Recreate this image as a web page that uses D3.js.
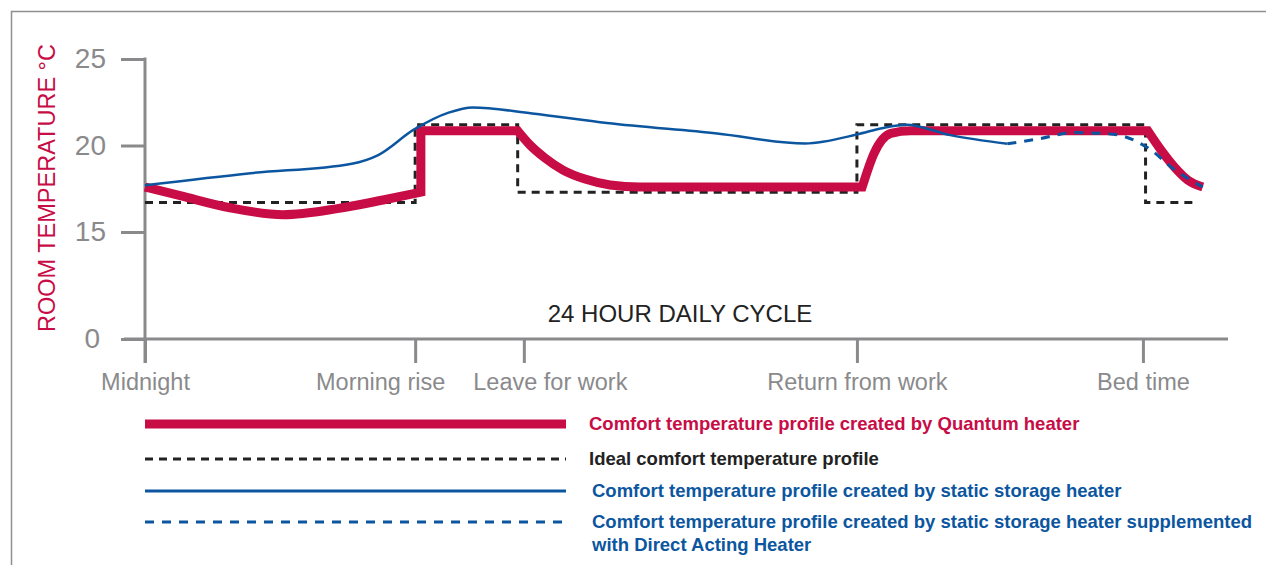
<!DOCTYPE html>
<html>
<head>
<meta charset="utf-8">
<script src="https://cdn.jsdelivr.net/npm/d3@7"></script>
<style>
  body { margin: 0; background: #fff; }
  svg { display: block; font-family: Helvetica, Arial, "Liberation Sans", sans-serif; }
</style>
</head>
<body>
<script>
// tick values + labels
const eventHours = [0, 6.14, 8.61, 16.18, 22.68];
const eventLabels = ["Midnight", "Morning rise", "Leave for work", "Return from work", "Bed time"];
const tempTicks = [0, 15, 20, 25];

// ideal comfort profile (step)
const idealProfile = [
    [0, 16.7], [6.14, 16.7], [6.14, 21.2], [8.47, 21.2], [8.47, 17.3],
    [16.18, 17.3], [16.18, 21.2], [22.74, 21.2], [22.74, 16.7], [23.93, 16.7]
];

// quantum heater, split where the line has a hard corner
const quantumProfile = [
    [[0, 17.6], [0.8, 17.1], [1.93, 16.4], [3.14, 16.0], [4.37, 16.35], [5.41, 16.85], [6.27, 17.3]],
    [[6.27, 17.3], [6.27, 20.85]],
    [[6.27, 20.85], [8.47, 20.85]],
    [[8.47, 20.85], [8.75, 20.03], [9.09, 19.28], [9.5, 18.58], [10.0, 18.06], [10.57, 17.72], [11.25, 17.6], [16.3, 17.6]],
    [[16.3, 17.6], [16.57, 19.55], [16.95, 20.7], [17.4, 20.85], [22.79, 20.85]],
    [[22.79, 20.85], [23.09, 19.74], [23.39, 18.77], [23.7, 18.0], [24.04, 17.6]]
];

// static storage heater
const storageProfile = [
    [0, 17.7], [2.4, 18.4], [4.7, 18.95], [5.3, 19.45], [6.1, 20.9], [6.9, 21.9], [7.45, 22.2],
    [8.8, 21.85], [10.5, 21.3], [13.0, 20.7], [15.0, 20.12], [16.2, 20.65], [16.75, 21.0],
    [17.3, 21.2], [18.3, 20.6], [19.6, 20.1]
];

// storage heater + direct acting heater
const supplementedProfile = [
    [19.6, 20.1], [20.35, 20.4], [21.1, 20.75], [22.0, 20.65], [22.8, 19.85], [23.4, 18.6], [24.04, 17.6]
];

const legendLabels = [
    ["Comfort temperature profile created by Quantum heater"],
    ["Ideal comfort temperature profile"],
    ["Comfort temperature profile created by static storage heater"],
    ["Comfort temperature profile created by static storage heater supplemented", "with Direct Acting Heater"]
];

const width = 1266, height = 565;
const red = "#c70c46", blue = "#0c56a0", ink = "#222", grey = "#8a8a8c";

const svg = d3.select("body").append("svg")
    .attr("width", width).attr("height", height);

// frame
svg.append("path")
    .attr("d", `M11.5,${height} V11.5 H${width}`)
    .attr("fill", "none").attr("stroke", "#8f8f8f").attr("stroke-width", 1.5);

const x = d3.scaleLinear().domain([0, 24]).range([145, 1201]);
// broken axis: 0 sits below 15
const y = d3.scaleLinear().domain([0, 15, 25]).range([339, 232, 59]);

// y axis
const yAxis = svg.append("g")
    .attr("transform", `translate(${x(0)},0)`)
    .call(d3.axisLeft(y).tickValues(tempTicks).tickSize(24).tickPadding(15).tickSizeOuter(0));
yAxis.select(".domain").remove();
yAxis.selectAll("line").attr("stroke", grey).attr("stroke-width", 3);
yAxis.selectAll("text")
    .attr("fill", grey).attr("font-size", 28).attr("font-family", null)
    .attr("dx", d => d === 0 ? -6 : 0);
yAxis.append("line")
    .attr("y1", y(25) - 1.5).attr("y2", y(0) + 24)
    .attr("stroke", grey).attr("stroke-width", 3);

// x axis
const labelNudge = { "Morning rise": -35, "Leave for work": 26 };
const xAxis = svg.append("g")
    .attr("transform", `translate(0,${y(0)})`)
    .call(d3.axisBottom(x).tickValues(eventHours)
        .tickFormat((d, i) => eventLabels[i]).tickSize(24).tickPadding(10).tickSizeOuter(0));
xAxis.select(".domain").remove();
xAxis.selectAll("line").attr("stroke", grey).attr("stroke-width", 3);
xAxis.selectAll("text")
    .attr("fill", grey).attr("font-size", 23.5).attr("font-family", null)
    .attr("dx", (d, i) => labelNudge[eventLabels[i]] || 0);
xAxis.append("line")
    .attr("x1", x(0) - 21).attr("x2", x(24) + 27)
    .attr("stroke", grey).attr("stroke-width", 3);

// axis titles
svg.append("text")
    .attr("transform", `translate(55,188) rotate(-90)`)
    .attr("text-anchor", "middle")
    .attr("fill", red).attr("font-size", 23.5)
    .text("ROOM TEMPERATURE °C");

svg.append("text")
    .attr("x", 680).attr("y", 322)
    .attr("text-anchor", "middle")
    .attr("fill", ink).attr("font-size", 24)
    .text("24 HOUR DAILY CYCLE");

// lines
const stepLine = d3.line().x(d => x(d[0])).y(d => y(d[1]));
const smooth = d3.line().x(d => x(d[0])).y(d => y(d[1])).curve(d3.curveMonotoneX);
const joinPieces = pieces => pieces.map((p, i) => {
    const d = smooth(p);
    return i ? "L" + d.slice(1) : d;
}).join("");

svg.append("path")
    .attr("d", stepLine(idealProfile))
    .attr("fill", "none").attr("stroke", ink).attr("stroke-width", 3)
    .attr("stroke-dasharray", "8,6");

svg.append("path")
    .attr("d", joinPieces(quantumProfile))
    .attr("fill", "none").attr("stroke", red).attr("stroke-width", 9);

svg.append("path")
    .attr("d", smooth(storageProfile))
    .attr("fill", "none").attr("stroke", blue).attr("stroke-width", 2.5);

svg.append("path")
    .attr("d", smooth(supplementedProfile))
    .attr("fill", "none").attr("stroke", blue).attr("stroke-width", 3)
    .attr("stroke-dasharray", "9,8");

// legend
const legendStyles = [
    { color: red, text: red, w: 9, dash: null, y: 424 },
    { color: ink, text: ink, w: 3, dash: "8,6", y: 459 },
    { color: blue, text: blue, w: 3, dash: null, y: 491 },
    { color: blue, text: blue, w: 3, dash: "9,8", y: 522 }
];
const legend = svg.append("g");
legendLabels.forEach((lines, i) => {
    const s = legendStyles[i];
    legend.append("line")
        .attr("x1", 145).attr("x2", 566).attr("y1", s.y).attr("y2", s.y)
        .attr("stroke", s.color).attr("stroke-width", s.w)
        .attr("stroke-dasharray", s.dash);
    const t = legend.append("text")
        .attr("x", i < 2 ? 589 : 592).attr("y", s.y + 6)
        .attr("fill", s.text).attr("font-size", 18.5).attr("font-weight", "bold");
    lines.forEach((l, j) => t.append("tspan")
        .attr("x", i < 2 ? 589 : 592).attr("dy", j ? 23 : 0).text(l));
});
</script>
</body>
</html>
